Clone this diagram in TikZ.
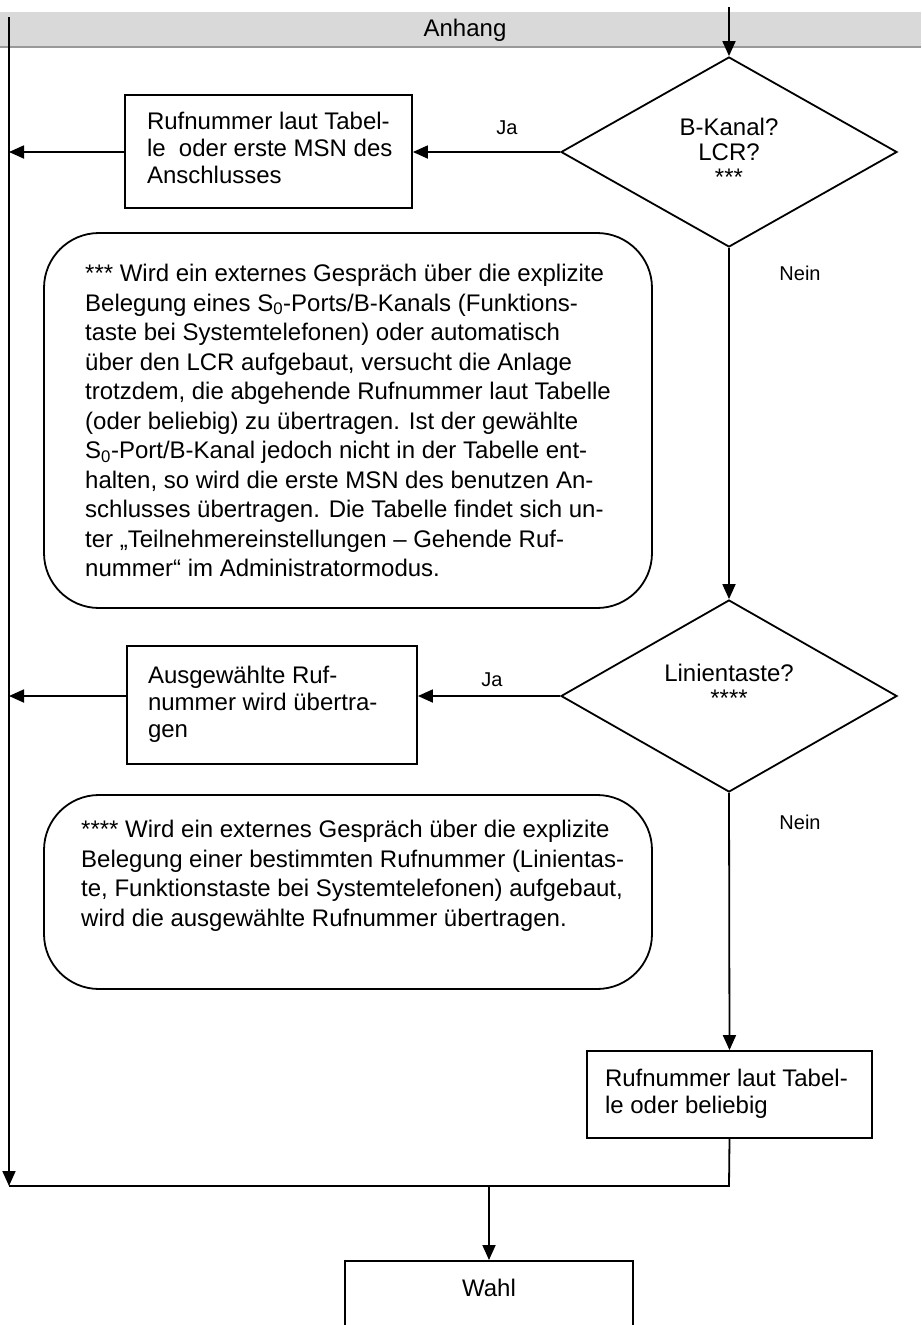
\documentclass[tikz,border=0pt]{standalone}
\usepackage{fontspec}
\setmainfont{Liberation Sans}
\usetikzlibrary{shapes.geometric,arrows.meta}
\newcommand\boxlines[2]{\makebox[#1][l]{\begin{tabular}{@{}l@{}}#2\end{tabular}}}
\tikzset{
  conn/.style={line width=1.8pt, -{Triangle[length=15pt,width=13pt]}},
  plain/.style={line width=1.8pt},
  stepbox/.style={draw, line width=1.8pt, rectangle, inner sep=0pt, font=\fontsize{24}{27}\selectfont},
  decision/.style={draw, line width=1.8pt, diamond, inner sep=-30pt, align=center, font=\fontsize{24}{25}\selectfont},
  notebox/.style={draw, line width=1.8pt, rounded corners=55pt, rectangle, inner sep=0pt, align=left, font=\fontsize{24}{29.5}\selectfont},
  notetext/.style={inner sep=0pt, align=left, font=\fontsize{24}{29.5}\selectfont},
  lbl/.style={inner sep=0pt, font=\fontsize{20}{22}\selectfont},
  headtext/.style={inner sep=0pt, font=\fontsize{24}{26}\selectfont},
}
\begin{document}
\begin{tikzpicture}[x=1pt, y=-1pt]
\useasboundingbox (0,0) rectangle (921,1325);
% header band
\fill[black!15] (0,12) rectangle (921,47);
\draw[black!40, line width=2pt] (0,47) -- (921,47);
\node[headtext] (anhang) at (465,30) {Anhang};

% decisions
\node[decision, minimum width=336pt, minimum height=190pt] (dia1) at (729,152) {B-Kanal?\\LCR?\\***};
\node[decision, minimum width=336pt, minimum height=192pt] (dia2) at (729,696) {Linientaste?\\****\\[-12pt]\strut};

% process boxes
\node[stepbox, minimum width=287pt, minimum height=113pt] (box1) at (268.5,151.5) {\boxlines{243pt}{Rufnummer laut Tabel-\\le~ oder erste MSN des\\Anschlusses}};
\node[stepbox, minimum width=290pt, minimum height=118pt] (box2) at (272,705) {\boxlines{248pt}{Ausgewählte Ruf-\\nummer wird übertra-\\gen}};
\node[stepbox, minimum width=285pt, minimum height=87pt] (box3) at (729.5,1094.5) {\boxlines{249pt}{Rufnummer laut Tabel-\\le oder beliebig}};
\node[stepbox, anchor=north, minimum width=288pt, minimum height=150pt] (wahl) at (489,1260) {};
\node[headtext] (wahltext) at (489,1288) {Wahl};

% notes
\node[notebox, minimum width=608pt, minimum height=375pt] (note1) at (348,420.5) {*** Wird ein externes Gespräch über die explizite\\
Belegung eines S\textsubscript{0}-Ports/B-Kanals (Funktions-\\
taste bei Systemtelefonen) oder automatisch\\
über den LCR aufgebaut, versucht die Anlage\\
trotzdem, die abgehende Rufnummer laut Tabelle\\
(oder beliebig) zu übertragen. Ist der gewählte\\
S\textsubscript{0}-Port/B-Kanal jedoch nicht in der Tabelle ent-\\
halten, so wird die erste MSN des benutzen An-\\
schlusses übertragen. Die Tabelle findet sich un-\\
ter „Teilnehmereinstellungen – Gehende Ruf-\\
nummer“ im Administratormodus.};
\node[notebox, minimum width=608pt, minimum height=194pt] (note2) at (348,892) {};
\node[notetext, anchor=north west] (note2text) at (81,820) {**** Wird ein externes Gespräch über die explizite\\
Belegung einer bestimmten Rufnummer (Linientas-\\
te, Funktionstaste bei Systemtelefonen) aufgebaut,\\
wird die ausgewählte Rufnummer übertragen.};

% labels
\node[lbl] (ja1) at (507,128) {Ja};
\node[lbl] (ja2) at (492,680) {Ja};
\node[lbl] (nein1) at (800,273) {Nein};
\node[lbl] (nein2) at (800,822) {Nein};

% connector coordinates
\coordinate (topin) at (729,7);
\coordinate (ltop) at (9,17);
\coordinate (lbot) at (9,1186);
\coordinate (L1) at (9,152);
\coordinate (L2) at (9,696);
\coordinate (mright) at (729,1186);

% connectors
\draw[conn] (topin) -- (dia1.north);
\draw[conn] (ltop) -- (lbot);
\draw[conn] (dia1.west) -- (dia1.west -| box1.east);
\draw[conn] (box1.west |- L1) -- (L1);
\draw[conn] (dia1.south) -- (dia2.north);
\draw[conn] (dia2.west) -- (dia2.west -| box2.east);
\draw[conn] (box2.west |- L2) -- (L2);
\draw[conn] (dia2.south) -- (box3.north);
\draw[plain] (box3.south) -- (mright) -- (lbot);
\draw[conn] (wahl.north |- lbot) -- (wahl.north);
\end{tikzpicture}
\end{document}
